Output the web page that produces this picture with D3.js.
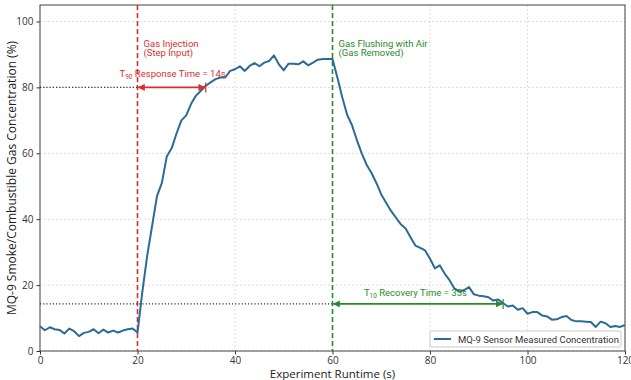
<!DOCTYPE html>
<html>
<head>
<meta charset="utf-8">
<script src="https://cdn.jsdelivr.net/npm/d3@7"></script>
<style>
  body { margin: 0; background: #fff; }
  svg { font-family: Roboto, "DejaVu Sans", sans-serif; }
</style>
</head>
<body>
<svg id="chart"></svg>
<script>
// sensor readings, one per second
const times = d3.range(0, 121);
const concentration = [
  7.5, 6.3, 7.2, 6.6, 6.4, 5.3, 6.8, 6.0, 4.5, 5.5, 5.8, 6.6, 5.4, 6.5, 5.6, 6.2, 5.6, 6.2, 6.6, 6.8, 5.6,
  18, 29, 38, 47, 51, 59, 61.5, 66, 70, 71.5, 75, 77.5, 79, 80.5, 81.5, 82.5, 83, 83, 85, 85.5,
  86.4, 85, 86.5, 87.4, 86.4, 87.5, 88, 89.7, 87, 85.2, 87.2, 87.2, 87, 87.9, 86.7, 87.5, 88.4, 88.6, 88.6, 88.6,
  83, 77, 71.7, 68.5, 64, 60, 56.5, 54, 51, 47.5, 45, 42.5, 40.5, 38.5, 37.2, 34.5, 32, 31.3, 30.5, 28,
  25.1, 26, 23.5, 21.5, 19, 18, 18.5, 19.4, 17.2, 16.8, 16.6, 16.3, 15.3, 15.6, 14.5, 13.5, 13.8, 12.5, 13, 11.3,
  11.8, 11.8, 10.8, 10.5, 9.5, 9.6, 10.3, 10.6, 9.4, 9, 9, 8.9, 8.8, 7.3, 8.9, 8.4, 7.3, 7.6, 7.3, 7.9
];
const xTicks = [0, 20, 40, 60, 80, 100, 120];
const yTicks = [0, 20, 40, 60, 80, 100];

const injectionTime = 20;
const flushTime = 60;
const t90Level = 80;
const t90Time = 34;
const t10Level = 14.3;
const t10Time = 95;

const width = 631, height = 380;
const margin = { top: 5, right: 6, bottom: 29, left: 40 };
const innerW = width - margin.left - margin.right;
const innerH = height - margin.top - margin.bottom;

const red = '#d3302f', green = '#2a8a2a', blue = '#2c6b96';

const svg = d3.select('#chart').attr('width', width).attr('height', height);

const defs = svg.append('defs');
function marker(id, color) {
  defs.append('marker')
    .attr('id', id)
    .attr('viewBox', '0 0 10 10')
    .attr('refX', 9).attr('refY', 5)
    .attr('markerWidth', 7).attr('markerHeight', 7)
    .attr('markerUnits', 'userSpaceOnUse')
    .attr('orient', 'auto-start-reverse')
    .append('path')
    .attr('d', 'M0,0 L10,5 L0,10 Z')
    .attr('fill', color);
}
marker('arrRed', red);
marker('arrGreen', green);

const chart = svg.append('g').attr('transform', `translate(${margin.left},${margin.top})`);

const x = d3.scaleLinear().domain([0, 120]).range([0, innerW]);
const y = d3.scaleLinear().domain([0, 105]).range([innerH, 0]);

// grid
chart.append('g').selectAll('line').data(xTicks).join('line')
  .attr('x1', d => x(d)).attr('x2', d => x(d))
  .attr('y1', 0).attr('y2', innerH)
  .attr('stroke', '#d4d4d4').attr('stroke-width', 0.8).attr('stroke-dasharray', '2,2');
chart.append('g').selectAll('line').data(yTicks).join('line')
  .attr('x1', 0).attr('x2', innerW)
  .attr('y1', d => y(d)).attr('y2', d => y(d))
  .attr('stroke', '#d4d4d4').attr('stroke-width', 0.8).attr('stroke-dasharray', '2,2');

// axes
const xAxis = chart.append('g').attr('transform', `translate(0,${innerH})`)
  .call(d3.axisBottom(x).tickValues(xTicks).tickSize(3.5).tickPadding(2).tickFormat(d3.format('d')));
const yAxis = chart.append('g')
  .call(d3.axisLeft(y).tickValues(yTicks).tickSize(3.5).tickPadding(3).tickFormat(d3.format('d')));
[xAxis, yAxis].forEach(a => {
  a.select('.domain').remove();
  a.selectAll('line').attr('stroke', '#333');
  a.selectAll('text').attr('fill', '#333').style('font-size', '10px').style('font-family', '"Open Sans", sans-serif');
});

// frame
chart.append('rect')
  .attr('width', innerW).attr('height', innerH)
  .attr('fill', 'none').attr('stroke', '#444').attr('stroke-width', 1);

// threshold dotted guides
chart.append('line')
  .attr('x1', 0).attr('x2', x(injectionTime))
  .attr('y1', y(t90Level)).attr('y2', y(t90Level))
  .attr('stroke', '#333').attr('stroke-width', 1.1).attr('stroke-dasharray', '1.2,2');
chart.append('line')
  .attr('x1', 0).attr('x2', x(flushTime))
  .attr('y1', y(t10Level)).attr('y2', y(t10Level))
  .attr('stroke', '#333').attr('stroke-width', 1.1).attr('stroke-dasharray', '1.2,2');

// event lines
chart.append('line')
  .attr('x1', x(injectionTime)).attr('x2', x(injectionTime))
  .attr('y1', 0).attr('y2', innerH)
  .attr('stroke', red).attr('stroke-width', 1.6).attr('stroke-dasharray', '5,3');
chart.append('line')
  .attr('x1', x(flushTime)).attr('x2', x(flushTime))
  .attr('y1', 0).attr('y2', innerH)
  .attr('stroke', green).attr('stroke-width', 1.6).attr('stroke-dasharray', '5,3');

// sensor line
const line = d3.line().x((d, i) => x(times[i])).y(d => y(d));
chart.append('path')
  .datum(concentration)
  .attr('fill', 'none')
  .attr('stroke', blue)
  .attr('stroke-width', 2)
  .attr('stroke-linejoin', 'round')
  .attr('d', line);

// response/recovery arrows
function span(t0, t1, level, color, mk) {
  chart.append('line')
    .attr('x1', x(t0) + 1).attr('x2', x(t1) - 1)
    .attr('y1', y(level)).attr('y2', y(level))
    .attr('stroke', color).attr('stroke-width', 1.8)
    .attr('marker-start', `url(#${mk})`).attr('marker-end', `url(#${mk})`);
  chart.append('line')
    .attr('x1', x(t1)).attr('x2', x(t1))
    .attr('y1', y(level) - 5).attr('y2', y(level) + 5)
    .attr('stroke', color).attr('stroke-width', 1.2);
}
span(injectionTime, t90Time, t90Level, red, 'arrRed');
span(flushTime, t10Time, t10Level, green, 'arrGreen');

function label(tx, val, sub, rest, color) {
  const t = chart.append('text')
    .attr('x', x(tx)).attr('y', y(val))
    .attr('fill', color).attr('text-anchor', 'middle')
    .style('font-size', '9.5px');
  t.append('tspan').text('T');
  t.append('tspan').attr('dy', 2).style('font-size', '6.5px').text(sub);
  t.append('tspan').attr('dy', -2).text(rest);
}
label(27.2, 83, '90', ' Response Time = 14s', red);
label(77, 16.8, '10', ' Recovery Time = 35s', green);

chart.append('text').attr('x', x(injectionTime) + 6).attr('y', y(92.4))
  .attr('fill', red).style('font-size', '9.5px').text('Gas Injection');
chart.append('text').attr('x', x(injectionTime) + 6).attr('y', y(89.5))
  .attr('fill', red).style('font-size', '9.5px').text('(Step Input)');
chart.append('text').attr('x', x(flushTime) + 6).attr('y', y(92.4))
  .attr('fill', green).style('font-size', '9.5px').text('Gas Flushing with Air');
chart.append('text').attr('x', x(flushTime) + 6).attr('y', y(89.5))
  .attr('fill', green).style('font-size', '9.5px').text('(Gas Removed)');

// legend
const lg = chart.append('g').attr('transform', `translate(${innerW - 195},${innerH - 20})`);
lg.append('rect').attr('width', 191).attr('height', 16)
  .attr('fill', '#fff').attr('stroke', '#ccc').attr('rx', 2);
lg.append('line').attr('x1', 4).attr('x2', 21).attr('y1', 8).attr('y2', 8)
  .attr('stroke', blue).attr('stroke-width', 2);
lg.append('text').attr('x', 28).attr('y', 11.5)
  .attr('fill', '#333').style('font-size', '9.5px')
  .text('MQ-9 Sensor Measured Concentration');

// axis titles
svg.append('text')
  .attr('x', margin.left + innerW / 2).attr('y', height - 2)
  .attr('text-anchor', 'middle').attr('fill', '#222')
  .style('font-size', '11.5px').style('font-family', '"Open Sans", sans-serif')
  .text('Experiment Runtime (s)');
svg.append('text')
  .attr('transform', `translate(16,${margin.top + innerH / 2}) rotate(-90)`)
  .attr('text-anchor', 'middle').attr('fill', '#222')
  .style('font-size', '12px').style('font-family', '"Open Sans", sans-serif')
  .text('MQ-9 Smoke/Combustible Gas Concentration (%)');
</script>
</body>
</html>
